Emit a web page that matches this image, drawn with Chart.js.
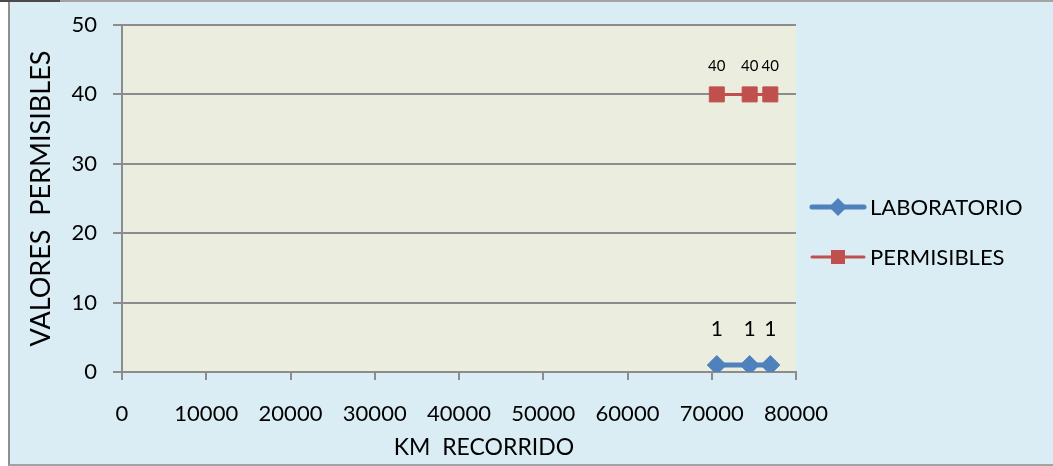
<!DOCTYPE html>
<html>
<head>
<meta charset="utf-8">
<script src="https://cdn.jsdelivr.net/npm/chart.js@4/dist/chart.umd.min.js"></script>
<style>
  html, body { margin: 0; padding: 0; background: #ffffff; }
  #frame {
    position: absolute; left: 8px; top: 0; width: 1045px; height: 466px;
    box-sizing: border-box; background: #dbedf4;
    border-left: 2px solid #8f8f8f; border-top: 2px solid #a3a3a3; border-bottom: 2px solid #a3a3a3;
  }
  #corner { position: absolute; left: 0; top: 0; width: 60px; height: 2px; background: #4a4a4a; }
  #wrap { position: absolute; left: 0; top: 0; width: 1053px; height: 466px; }
</style>
</head>
<body>
<div id="frame"></div>
<div id="corner"></div>
<div id="wrap"><canvas id="chart" width="1053" height="466"></canvas></div>
<script>
// Kilometres travelled at each measurement
const kmValues = [70600, 74500, 76950];
// Laboratory results and permissible limits
const labValues = [1, 1, 1];
const permValues = [40, 40, 40];
const seriesNames = ['LABORATORIO', 'PERMISIBLES'];
// Axis ranges and steps
const xTicks = { min: 0, max: 80000, step: 10000 };
const yTicks = { min: 0, max: 50, step: 10 };

const FONT = 'Lato';
const GRID = '#8c8c8c';

const toPoints = vals => kmValues.map((km, i) => ({ x: km, y: vals[i] }));

const plotBackground = {
  id: 'plotBackground',
  beforeDraw(chart) {
    const { ctx, chartArea: a } = chart;
    ctx.save();
    ctx.fillStyle = '#ebeedf';
    ctx.fillRect(a.left, a.top, a.right - a.left, a.bottom - a.top);
    ctx.restore();
  }
};

// Value labels above each point
const valueLabels = {
  id: 'valueLabels',
  afterDatasetsDraw(chart) {
    const { ctx } = chart;
    const styles = [{ size: 21, off: 36 }, { size: 15, off: 28 }];
    chart.data.datasets.forEach((ds, di) => {
      const meta = chart.getDatasetMeta(di);
      const st = styles[di];
      ctx.save();
      ctx.font = st.size + 'px ' + FONT;
      ctx.fillStyle = '#000000';
      ctx.textAlign = 'center';
      ctx.textBaseline = 'middle';
      meta.data.forEach((pt, i) => {
        ctx.fillText(String(ds.data[i].y), pt.x, pt.y - st.off);
      });
      ctx.restore();
    });
  }
};

// Legend on the right and x axis title
const sideLegend = {
  id: 'sideLegend',
  afterDraw(chart) {
    const { ctx } = chart;
    const rows = [207, 257];
    chart.data.datasets.forEach((ds, di) => {
      const y = rows[di];
      ctx.save();
      ctx.strokeStyle = ds.borderColor;
      ctx.lineWidth = ds.borderWidth;
      ctx.lineCap = 'round';
      ctx.beginPath();
      ctx.moveTo(812, y);
      ctx.lineTo(864, y);
      ctx.stroke();
      ctx.fillStyle = ds.pointBackgroundColor;
      ctx.beginPath();
      if (ds.pointStyle === 'rectRot') {
        const r = 9;
        ctx.moveTo(838 - r, y); ctx.lineTo(838, y - r); ctx.lineTo(838 + r, y); ctx.lineTo(838, y + r);
      } else {
        ctx.rect(838 - 7, y - 7, 14, 14);
      }
      ctx.closePath();
      ctx.fill();
      ctx.font = '22px ' + FONT;
      ctx.fillStyle = '#000000';
      ctx.textAlign = 'left';
      ctx.textBaseline = 'middle';
      ctx.fillText(ds.label, 870, y + 1);
      ctx.restore();
    });
    ctx.save();
    ctx.font = '23px ' + FONT;
    ctx.fillStyle = '#000000';
    ctx.textAlign = 'center';
    ctx.textBaseline = 'middle';
    ctx.fillText('KM  RECORRIDO', 484, 448);
    ctx.restore();
  }
};

new Chart(document.getElementById('chart'), {
  type: 'scatter',
  data: {
    datasets: [
      {
        label: seriesNames[0],
        data: toPoints(labValues),
        showLine: true,
        borderColor: '#4f81bd',
        borderWidth: 5,
        pointStyle: 'rectRot',
        pointRadius: 9.5,
        pointHoverRadius: 9.5,
        pointBackgroundColor: '#4f81bd',
        pointBorderColor: '#4f81bd',
        pointBorderWidth: 1
      },
      {
        label: seriesNames[1],
        data: toPoints(permValues),
        showLine: true,
        borderColor: '#c0504d',
        borderWidth: 3,
        pointStyle: 'rect',
        pointRadius: 10.6,
        pointHoverRadius: 10.6,
        pointBackgroundColor: '#c0504d',
        pointBorderColor: '#c0504d',
        pointBorderWidth: 1
      }
    ]
  },
  options: {
    responsive: false,
    animation: false,
    events: [],
    layout: { padding: { top: 25, right: 257, bottom: 0, left: 0 } },
    plugins: { legend: { display: false }, tooltip: { enabled: false } },
    scales: {
      x: {
        type: 'linear',
        min: xTicks.min,
        max: xTicks.max,
        afterFit(s) { s.height = 94; s.paddingLeft = 0; s.paddingRight = 0; },
        ticks: {
          stepSize: xTicks.step,
          color: '#000000',
          font: { family: FONT, size: 22 },
          padding: 21,
          maxRotation: 0,
          autoSkip: false,
          callback: v => String(v)
        },
        grid: { drawOnChartArea: false, color: GRID, lineWidth: 2, tickLength: 8 },
        border: { color: GRID, width: 2 }
      },
      y: {
        type: 'linear',
        min: yTicks.min,
        max: yTicks.max,
        afterFit(s) { s.width = 122; s.paddingTop = 0; s.paddingBottom = 0; },
        ticks: {
          stepSize: yTicks.step,
          color: '#000000',
          font: { family: FONT, size: 22 },
          padding: 16
        },
        grid: { color: GRID, lineWidth: 2, tickLength: 9 },
        border: { color: GRID, width: 2 },
        title: {
          display: true,
          text: 'VALORES  PERMISIBLES',
          color: '#000000',
          font: { family: FONT, size: 27 },
          padding: { top: 25, bottom: 0 }
        }
      }
    }
  },
  plugins: [plotBackground, valueLabels, sideLegend]
});
</script>
</body>
</html>
